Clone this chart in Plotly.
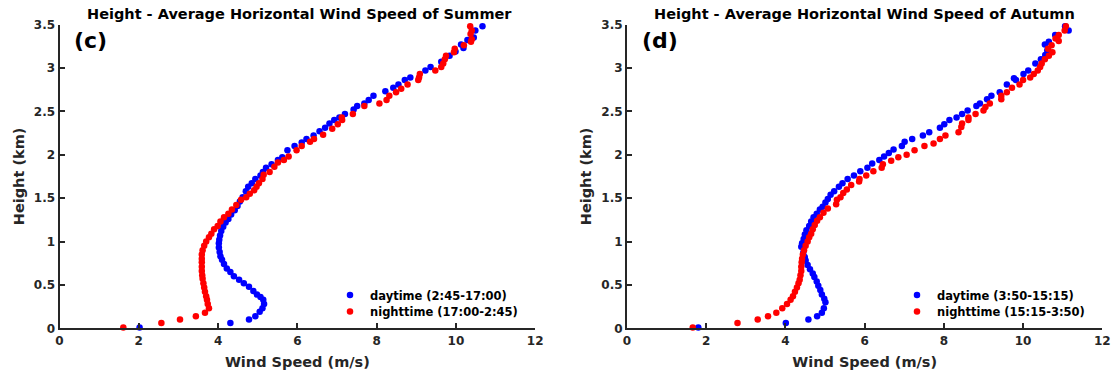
import plotly.graph_objects as go

# ---------------- data ----------------
summer_day_h = [0.01,0.06,0.10,0.14,0.19,0.23,0.28,0.33,0.36,0.39,0.43,0.48,0.52,0.56,0.60,0.65,0.69,0.74,0.79,0.83,
                0.88,0.93,0.98,1.02,1.07,1.12,1.17,1.22,1.26,1.31,1.36,1.41,1.46,1.51,1.58,1.63,1.67,1.72,1.76,1.80,
                1.85,1.89,1.94,1.97,2.05,2.10,2.14,2.18,2.22,2.27,2.31,2.36,2.40,2.43,2.47,2.52,2.56,2.59,2.63,2.68,
                2.73,2.77,2.81,2.86,2.89,2.97,3.01,3.07,3.14,3.19,3.23,3.27,3.32,3.35,3.43,3.48]
summer_day_v = [2.02,4.31,4.78,4.94,5.05,5.12,5.16,5.14,5.07,4.98,4.89,4.78,4.65,4.53,4.40,4.31,4.22,4.15,4.10,4.06,
                4.04,4.02,4.02,4.03,4.05,4.08,4.13,4.19,4.26,4.33,4.42,4.49,4.55,4.62,4.70,4.76,4.85,4.94,5.07,5.13,
                5.21,5.35,5.51,5.62,5.75,5.93,6.11,6.23,6.41,6.56,6.70,6.81,6.93,7.06,7.20,7.42,7.51,7.69,7.80,7.92,
                8.22,8.42,8.55,8.71,8.85,9.23,9.36,9.63,9.84,9.99,10.19,10.13,10.29,10.45,10.49,10.67]

summer_night_h = [0.01,0.06,0.10,0.14,0.18,0.23,0.28,0.33,0.37,0.42,0.47,0.52,0.57,0.61,0.66,0.71,0.76,0.80,0.85,0.90,
                  0.95,1.00,1.05,1.09,1.14,1.18,1.23,1.28,1.32,1.37,1.42,1.48,1.51,1.55,1.59,1.63,1.67,1.72,1.77,1.80,
                  1.86,1.91,1.94,1.98,2.05,2.10,2.15,2.18,2.23,2.30,2.35,2.40,2.43,2.47,2.56,2.59,2.63,2.68,2.72,2.76,
                  2.81,2.86,2.89,2.93,2.97,3.01,3.05,3.10,3.14,3.18,3.22,3.26,3.30,3.33,3.39,3.43,3.48]
summer_night_v = [1.61,2.57,3.04,3.44,3.67,3.77,3.74,3.72,3.70,3.67,3.65,3.63,3.61,3.60,3.59,3.59,3.59,3.59,3.59,3.61,
                  3.65,3.70,3.77,3.83,3.90,3.99,4.06,4.15,4.26,4.35,4.46,4.58,4.71,4.80,4.91,4.97,5.03,5.12,5.15,5.30,
                  5.42,5.51,5.66,5.78,5.98,6.11,6.32,6.42,6.65,6.88,7.02,7.13,7.12,7.40,7.69,8.07,8.25,8.32,8.49,8.62,
                  8.78,9.05,9.07,9.09,9.48,9.63,9.68,9.72,9.75,9.95,9.97,10.20,10.38,10.40,10.37,10.40,10.36]

autumn_day_h = [0.01,0.06,0.10,0.14,0.18,0.23,0.30,0.34,0.39,0.44,0.49,0.54,0.59,0.63,0.68,0.73,0.78,0.82,0.87,0.94,
                0.98,1.03,1.08,1.13,1.18,1.23,1.28,1.32,1.37,1.40,1.45,1.49,1.54,1.58,1.63,1.67,1.72,1.76,1.81,1.85,
                1.90,1.94,1.98,2.02,2.06,2.10,2.15,2.18,2.22,2.26,2.31,2.35,2.40,2.43,2.47,2.51,2.56,2.59,2.64,2.68,
                2.72,2.81,2.86,2.88,2.93,2.97,3.05,3.10,3.15,3.20,3.27,3.30,3.38,3.43,3.48]
autumn_day_v = [1.80,4.01,4.58,4.80,4.92,4.97,5.01,4.98,4.92,4.88,4.83,4.79,4.73,4.69,4.62,4.56,4.51,4.49,4.45,4.40,
                4.42,4.46,4.49,4.53,4.60,4.65,4.71,4.79,4.87,4.94,5.01,5.07,5.14,5.23,5.35,5.44,5.57,5.73,5.89,6.07,
                6.19,6.37,6.49,6.61,6.73,6.94,7.01,7.20,7.47,7.63,7.90,8.01,8.14,8.32,8.46,8.60,8.82,8.91,9.09,9.20,
                9.41,9.59,9.82,9.77,10.01,10.13,10.31,10.45,10.56,10.61,10.55,10.65,10.81,11.15,11.06]

autumn_night_h = [0.01,0.06,0.10,0.14,0.18,0.23,0.28,0.33,0.37,0.42,0.47,0.52,0.56,0.61,0.66,0.71,0.76,0.80,0.85,0.90,
                  0.95,1.00,1.05,1.09,1.14,1.19,1.24,1.28,1.33,1.38,1.43,1.48,1.51,1.56,1.60,1.65,1.69,1.72,1.76,1.81,
                  1.85,1.89,1.93,1.97,2.00,2.05,2.10,2.13,2.18,2.22,2.26,2.32,2.36,2.40,2.43,2.47,2.51,2.55,2.59,2.64,
                  2.68,2.72,2.77,2.81,2.86,2.89,2.93,2.97,3.01,3.05,3.10,3.14,3.18,3.22,3.26,3.31,3.34,3.38,3.43,3.48]
autumn_night_v = [1.66,2.79,3.30,3.56,3.77,3.92,4.04,4.13,4.19,4.24,4.29,4.33,4.36,4.38,4.40,4.40,4.41,4.42,4.44,4.47,
                  4.51,4.56,4.60,4.65,4.69,4.74,4.80,4.87,4.96,5.07,5.28,5.30,5.39,5.46,5.55,5.66,5.86,5.87,6.04,6.22,
                  6.43,6.46,6.67,6.85,7.06,7.26,7.51,7.74,7.90,8.04,8.37,8.44,8.46,8.62,8.62,8.80,9.00,9.05,9.16,9.45,
                  9.45,9.59,9.72,9.91,10.00,10.18,10.27,10.37,10.43,10.47,10.55,10.65,10.74,10.63,10.72,10.90,10.82,10.90,11.05,11.08]

x_ticks = [0, 2, 4, 6, 8, 10, 12]
y_ticks = [0, 0.5, 1, 1.5, 2, 2.5, 3, 3.5]

titles = ["Height - Average Horizontal Wind Speed of Summer",
          "Height - Average Horizontal Wind Speed of Autumn"]
panel_labels = ["(c)", "(d)"]
legend_names = [["daytime (2:45-17:00)", "nighttime (17:00-2:45)"],
                ["daytime (3:50-15:15)", "nighttime (15:15-3:50)"]]

# ---------------- figure ----------------
W, H = 1114, 375
FONT = "DejaVu Sans, Verdana, sans-serif"
DARK = "#262626"
BLUE = "rgb(0,0,255)"
RED = "rgb(255,0,0)"

px_x = lambda p: p / W
px_y = lambda p: 1 - p / H

# plot-area pixel geometry
TOP, BOTTOM = 24.5, 328.3
L1, R1 = 59.5, 535.2
L2, R2 = 627.0, 1102.3

fig = go.Figure()

series = [
    (summer_day_v, summer_day_h, BLUE, legend_names[0][0], "x", "y", "legend"),
    (summer_night_v, summer_night_h, RED, legend_names[0][1], "x", "y", "legend2"),
    (autumn_day_v, autumn_day_h, BLUE, legend_names[1][0], "x2", "y2", "legend3"),
    (autumn_night_v, autumn_night_h, RED, legend_names[1][1], "x2", "y2", "legend4"),
]
for xv, yv, col, name, xa, ya, lg in series:
    fig.add_trace(go.Scatter(x=xv, y=yv, mode="markers", name=name,
                             marker=dict(color=col, size=6.5, line=dict(width=0)),
                             xaxis=xa, yaxis=ya, legend=lg, cliponaxis=False))

axis_common = dict(showgrid=False, zeroline=False, showline=True, linecolor=DARK, linewidth=2,
                   ticks="inside", ticklen=5, tickwidth=1.5, tickcolor=DARK, mirror=False,
                   automargin=False,
                   tickfont=dict(family=FONT, size=12, color=DARK, weight="bold"),
                   title_font=dict(family=FONT, size=14.5, color=DARK, weight="bold"))

legend_font = dict(family=FONT, size=11.5, color="black", weight="bold")
def legend_box(text_left, row_center):
    return dict(x=px_x(text_left - 40), y=px_y(row_center), xanchor="left", yanchor="middle",
                bgcolor="rgba(0,0,0,0)", borderwidth=0, font=legend_font)

fig.update_layout(
    template="none",
    width=W, height=H, margin=dict(l=0, r=0, t=0, b=0, autoexpand=False),
    paper_bgcolor="white", plot_bgcolor="white",
    xaxis=dict(domain=[px_x(L1), px_x(R1)], range=[0, 12], tickvals=x_ticks, anchor="y",
               title=dict(text="Wind Speed (m/s)", standoff=10), **axis_common),
    yaxis=dict(domain=[px_y(BOTTOM), px_y(TOP)], range=[0, 3.5], tickvals=y_ticks, anchor="x",
               title=dict(text="Height (km)", standoff=6), **axis_common),
    xaxis2=dict(domain=[px_x(L2), px_x(R2)], range=[0, 12], tickvals=x_ticks, anchor="y2",
                title=dict(text="Wind Speed (m/s)", standoff=10), **axis_common),
    yaxis2=dict(domain=[px_y(BOTTOM), px_y(TOP)], range=[0, 3.5], tickvals=y_ticks, anchor="x2",
                title=dict(text="Height (km)", standoff=6), **axis_common),
    legend=legend_box(370, 295),
    legend2=legend_box(370, 311.5),
    legend3=legend_box(937, 295),
    legend4=legend_box(937, 311.5),
    showlegend=True,
)

centers = [(L1 + R1) / 2 + 2, (L2 + R2) / 2]
lefts = [72, 640]
for i in range(2):
    fig.add_annotation(text=titles[i], x=px_x(centers[i]), y=px_y(14.5), xref="paper", yref="paper",
                       showarrow=False, xanchor="center", yanchor="middle",
                       font=dict(family=FONT, size=14.5, color="black", weight="bold"))
    fig.add_annotation(text=panel_labels[i], x=px_x(lefts[i]), y=px_y(41), xref="paper", yref="paper",
                       showarrow=False, xanchor="left", yanchor="middle",
                       font=dict(family=FONT, size=22, color="black", weight="bold"))

fig.write_html("out.html")
